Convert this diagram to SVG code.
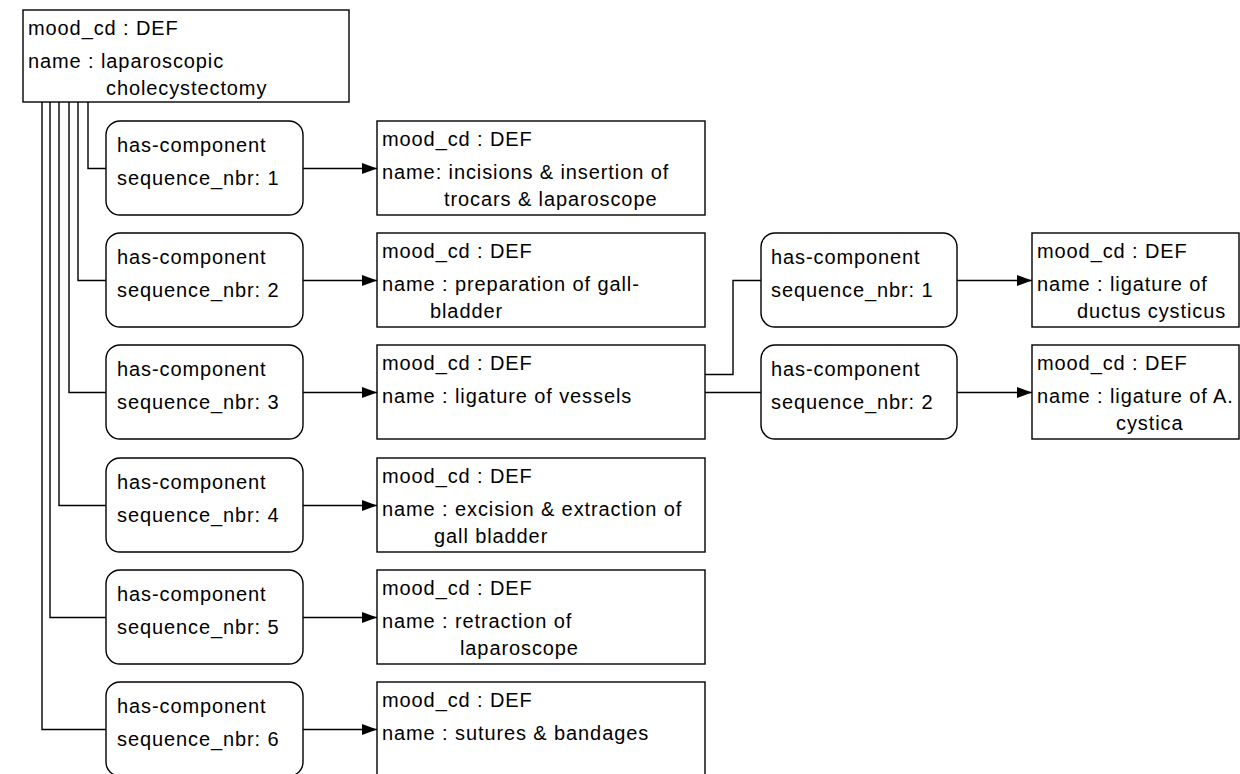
<svg xmlns="http://www.w3.org/2000/svg" width="1240" height="774" viewBox="0 0 1240 774">
<style>
  .box{fill:#fff;stroke:#000;stroke-width:1.4}
  .rel{fill:#fff;stroke:#000;stroke-width:1.4}
  .t{font-family:"Liberation Sans",Arial,sans-serif;font-size:20px;letter-spacing:0.9px;fill:#000}
  .c{fill:none;stroke:#000;stroke-width:1.4}
</style>
<defs>
  <marker id="ah" markerUnits="userSpaceOnUse" markerWidth="16" markerHeight="12" refX="15" refY="6" orient="auto">
    <path d="M0,0.5 L15,6 L0,11.5 z" fill="#000"/>
  </marker>
</defs>
<rect width="1240" height="774" fill="#fff"/>

<g id="connectors">
  <polyline class="c" points="88,102 88,168.5 106,168.5"/>
  <polyline class="c" points="78,102 78,280.5 106,280.5"/>
  <polyline class="c" points="69,102 69,392.5 106,392.5"/>
  <polyline class="c" points="59,102 59,505.5 106,505.5"/>
  <polyline class="c" points="50,102 50,617.5 106,617.5"/>
  <polyline class="c" points="42,102 42,729.5 106,729.5"/>
  <line class="c" x1="303" y1="168.5" x2="377" y2="168.5" marker-end="url(#ah)"/>
  <line class="c" x1="303" y1="280.5" x2="377" y2="280.5" marker-end="url(#ah)"/>
  <line class="c" x1="303" y1="392.5" x2="377" y2="392.5" marker-end="url(#ah)"/>
  <line class="c" x1="303" y1="505.5" x2="377" y2="505.5" marker-end="url(#ah)"/>
  <line class="c" x1="303" y1="617.5" x2="377" y2="617.5" marker-end="url(#ah)"/>
  <line class="c" x1="303" y1="729.5" x2="377" y2="729.5" marker-end="url(#ah)"/>
  <polyline class="c" points="705,374.5 733,374.5 733,280.5 761,280.5"/>
  <line class="c" x1="705" y1="392.5" x2="761" y2="392.5"/>
  <line class="c" x1="957" y1="280.5" x2="1032" y2="280.5" marker-end="url(#ah)"/>
  <line class="c" x1="957" y1="392.5" x2="1032" y2="392.5" marker-end="url(#ah)"/>
</g>

<g id="root">
  <rect class="box" x="23" y="10" width="326" height="92"/>
  <text class="t" x="28" y="35">mood_cd : DEF</text>
  <text class="t" x="28" y="68">name : laparoscopic</text>
  <text class="t" x="106" y="95">cholecystectomy</text>
</g>

<g id="rel1"><rect class="rel" x="106" y="121" width="197" height="94" rx="14"/>
  <text class="t" x="117" y="152">has-component</text><text class="t" x="117" y="185">sequence_nbr: 1</text></g>
<g id="rel2"><rect class="rel" x="106" y="233" width="197" height="94" rx="14"/>
  <text class="t" x="117" y="264">has-component</text><text class="t" x="117" y="297">sequence_nbr: 2</text></g>
<g id="rel3"><rect class="rel" x="106" y="345" width="197" height="94" rx="14"/>
  <text class="t" x="117" y="376">has-component</text><text class="t" x="117" y="409">sequence_nbr: 3</text></g>
<g id="rel4"><rect class="rel" x="106" y="458" width="197" height="94" rx="14"/>
  <text class="t" x="117" y="489">has-component</text><text class="t" x="117" y="522">sequence_nbr: 4</text></g>
<g id="rel5"><rect class="rel" x="106" y="570" width="197" height="94" rx="14"/>
  <text class="t" x="117" y="601">has-component</text><text class="t" x="117" y="634">sequence_nbr: 5</text></g>
<g id="rel6"><rect class="rel" x="106" y="682" width="197" height="94" rx="14"/>
  <text class="t" x="117" y="713">has-component</text><text class="t" x="117" y="746">sequence_nbr: 6</text></g>

<g id="act1"><rect class="box" x="377" y="121" width="328" height="94"/>
  <text class="t" x="382" y="146">mood_cd : DEF</text>
  <text class="t" x="382" y="179">name: incisions &amp; insertion of</text>
  <text class="t" x="444" y="206">trocars &amp; laparoscope</text></g>
<g id="act2"><rect class="box" x="377" y="233" width="328" height="94"/>
  <text class="t" x="382" y="258">mood_cd : DEF</text>
  <text class="t" x="382" y="291">name : preparation of gall-</text>
  <text class="t" x="430" y="318">bladder</text></g>
<g id="act3"><rect class="box" x="377" y="345" width="328" height="94"/>
  <text class="t" x="382" y="370">mood_cd : DEF</text>
  <text class="t" x="382" y="403">name : ligature of vessels</text></g>
<g id="act4"><rect class="box" x="377" y="458" width="328" height="94"/>
  <text class="t" x="382" y="483">mood_cd : DEF</text>
  <text class="t" x="382" y="516">name : excision &amp; extraction of</text>
  <text class="t" x="434" y="543">gall bladder</text></g>
<g id="act5"><rect class="box" x="377" y="570" width="328" height="94"/>
  <text class="t" x="382" y="595">mood_cd : DEF</text>
  <text class="t" x="382" y="628">name : retraction of</text>
  <text class="t" x="460" y="655">laparoscope</text></g>
<g id="act6"><rect class="box" x="377" y="682" width="328" height="94"/>
  <text class="t" x="382" y="707">mood_cd : DEF</text>
  <text class="t" x="382" y="740">name : sutures &amp; bandages</text></g>

<g id="rel31"><rect class="rel" x="761" y="233" width="196" height="94" rx="14"/>
  <text class="t" x="771" y="264">has-component</text><text class="t" x="771" y="297">sequence_nbr: 1</text></g>
<g id="rel32"><rect class="rel" x="761" y="345" width="196" height="94" rx="14"/>
  <text class="t" x="771" y="376">has-component</text><text class="t" x="771" y="409">sequence_nbr: 2</text></g>

<g id="act31"><rect class="box" x="1032" y="233" width="207" height="94"/>
  <text class="t" x="1037" y="258">mood_cd : DEF</text>
  <text class="t" x="1037" y="291">name : ligature of</text>
  <text class="t" x="1077" y="318">ductus cysticus</text></g>
<g id="act32"><rect class="box" x="1032" y="345" width="207" height="94"/>
  <text class="t" x="1037" y="370">mood_cd : DEF</text>
  <text class="t" x="1037" y="403">name : ligature of A.</text>
  <text class="t" x="1116" y="430">cystica</text></g>
</svg>
